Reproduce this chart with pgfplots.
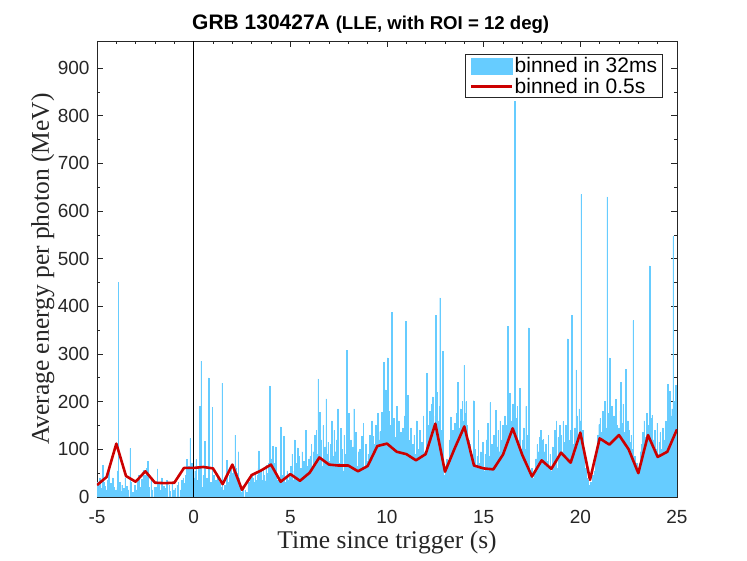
\documentclass[border=0pt]{standalone}
\usepackage{pgfplots}
\pgfplotsset{compat=1.18}
\usepackage{pgfplotstable}
\usepackage{fontspec}
\setmainfont{Liberation Sans}
\newfontfamily\seriffont{Liberation Serif}
\definecolor{barblue}{rgb}{0.4,0.8,1}
\definecolor{linered}{rgb}{0.8,0,0}
\definecolor{axgray}{rgb}{0.15,0.15,0.15}

% average energy per photon, 32 ms bins starting at t = -5 s (one line per second)
\pgfplotstableread[row sep=\\]{
v\\
0\\30\\0\\25\\40\\0\\18\\0\\45\\67\\0\\30\\0\\22\\0\\15\\0\\35\\60\\0\\12\\0\\28\\0\\0\\40\\0\\20\\0\\0\\15\\
0\\20\\55\\450\\0\\30\\0\\12\\0\\25\\0\\0\\18\\0\\40\\0\\0\\22\\0\\15\\0\\0\\102\\0\\30\\0\\10\\0\\0\\25\\0\\
0\\15\\0\\30\\0\\45\\0\\20\\0\\0\\38\\0\\56\\0\\25\\46\\0\\30\\60\\75\\65\\0\\20\\0\\0\\35\\0\\15\\0\\0\\20\\
0\\20\\0\\0\\59\\0\\30\\0\\15\\0\\0\\40\\0\\0\\22\\0\\0\\18\\0\\35\\0\\0\\0\\25\\0\\12\\0\\0\\30\\0\\0\\15\\
0\\18\\0\\0\\25\\0\\30\\0\\0\\15\\0\\35\\0\\22\\40\\0\\28\\0\\45\\55\\79\\30\\20\\65\\50\\123\\60\\40\\70\\35\\45\\
40\\20\\55\\30\\79\\0\\35\\25\\60\\15\\190\\30\\285\\0\\20\\45\\10\\30\\117\\0\\25\\40\\15\\35\\250\\0\\20\\30\\0\\12\\188\\
30\\45\\20\\0\\35\\15\\0\\25\\40\\0\\18\\30\\0\\12\\20\\239\\0\\15\\0\\25\\0\\10\\77\\0\\20\\30\\0\\45\\25\\60\\35\\
50\\40\\65\\30\\45\\130\\60\\35\\50\\20\\95\\40\\25\\0\\10\\0\\0\\21\\0\\0\\0\\15\\0\\0\\10\\0\\25\\30\\0\\40\\35\\30\\
45\\0\\40\\30\\0\\50\\25\\35\\0\\45\\60\\97\\30\\20\\55\\40\\0\\35\\60\\25\\45\\0\\34\\66\\50\\30\\45\\70\\55\\233\\60\\
60\\80\\45\\107\\55\\70\\40\\105\\50\\30\\20\\35\\0\\25\\40\\147\\30\\0\\20\\45\\128\\60\\15\\30\\0\\40\\55\\35\\20\\50\\45\\
20\\65\\10\\90\\35\\0\\55\\120\\25\\45\\70\\15\\103\\40\\85\\5\\30\\60\\20\\95\\45\\10\\75\\30\\50\\140\\20\\65\\35\\0\\80\\
30\\85\\15\\110\\60\\20\\95\\45\\130\\25\\70\\140\\40\\90\\248\\55\\100\\178\\30\\120\\65\\15\\150\\80\\35\\105\\60\\206\\20\\90\\115\\45\\
75\\20\\110\\45\\160\\30\\85\\10\\140\\60\\95\\25\\120\\50\\185\\35\\70\\15\\144\\120\\40\\100\\55\\20\\130\\65\\30\\90\\307\\45\\80\\
175\\40\\90\\15\\120\\60\\30\\105\\50\\185\\25\\80\\135\\20\\65\\10\\95\\45\\100\\30\\70\\128\\15\\85\\155\\40\\60\\20\\110\\75\\35\\
50\\90\\25\\130\\70\\114\\35\\160\\85\\128\\40\\110\\65\\150\\30\\95\\175\\55\\120\\80\\137\\45\\100\\178\\60\\140\\283\\90\\165\\225\\105\\
140\\292\\60\\180\\95\\30\\150\\75\\388\\110\\45\\165\\80\\20\\125\\55\\190\\35\\100\\160\\70\\15\\135\\50\\105\\25\\145\\60\\90\\170\\40\\369\\
85\\40\\213\\120\\30\\95\\60\\145\\20\\75\\110\\45\\130\\15\\90\\55\\160\\25\\70\\100\\35\\140\\50\\10\\115\\65\\85\\170\\40\\95\\60\\
70\\260\\115\\40\\150\\85\\180\\55\\125\\195\\90\\210\\60\\140\\100\\170\\381\\130\\220\\75\\160\\110\\190\\418\\95\\60\\140\\305\\30\\45\\20\\
15\\50\\25\\80\\10\\65\\35\\120\\45\\168\\90\\30\\140\\70\\115\\40\\155\\85\\60\\175\\120\\241\\50\\145\\95\\185\\130\\70\\200\\110\\160\\
276\\130\\175\\200\\95\\150\\60\\120\\80\\45\\110\\30\\90\\55\\20\\202\\70\\35\\100\\15\\60\\85\\25\\140\\45\\70\\10\\95\\50\\30\\115\\40\\
55\\20\\90\\35\\120\\10\\155\\65\\30\\85\\198\\40\\15\\110\\50\\25\\130\\60\\20\\182\\75\\105\\35\\140\\60\\95\\160\\45\\120\\85\\150\\
90\\140\\45\\170\\110\\60\\150\\358\\85\\125\\180\\217\\70\\160\\115\\195\\90\\140\\196\\831\\165\\75\\130\\190\\55\\120\\85\\228\\100\\40\\75\\
120\\60\\145\\35\\100\\75\\190\\50\\130\\25\\355\\70\\20\\45\\10\\60\\30\\5\\40\\15\\55\\25\\80\\35\\110\\50\\95\\20\\125\\65\\140\\
85\\40\\120\\121\\60\\95\\30\\110\\20\\75\\45\\130\\15\\65\\90\\25\\55\\35\\105\\10\\70\\140\\40\\95\\160\\60\\30\\125\\75\\150\\45\\115\\
130\\60\\95\\158\\40\\115\\75\\150\\30\\90\\332\\55\\120\\20\\85\\140\\45\\381\\30\\70\\110\\25\\145\\60\\267\\95\\170\\50\\130\\185\\100\\
160\\635\\120\\75\\140\\45\\95\\30\\60\\20\\40\\10\\35\\0\\25\\15\\5\\30\\0\\20\\45\\10\\55\\25\\80\\40\\105\\70\\130\\90\\152\\
110\\165\\70\\135\\95\\180\\55\\120\\200\\85\\145\\60\\630\\105\\175\\80\\292\\130\\65\\190\\100\\150\\45\\170\\115\\80\\205\\95\\150\\60\\125\\
145\\90\\180\\240\\70\\155\\110\\195\\60\\135\\85\\268\\120\\50\\160\\95\\140\\40\\115\\75\\130\\35\\100\\370\\60\\20\\85\\45\\15\\70\\30\\55\\
25\\70\\40\\95\\15\\110\\55\\135\\80\\160\\45\\125\\95\\175\\60\\150\\110\\70\\485\\130\\85\\165\\172\\50\\120\\75\\140\\35\\100\\60\\155\\
90\\40\\115\\60\\135\\25\\100\\70\\145\\50\\120\\30\\95\\160\\65\\110\\236\\80\\140\\222\\55\\170\\120\\185\\95\\547\\150\\200\\130\\235\\160\\
}\barsdata

\begin{document}
\begin{tikzpicture}
\useasboundingbox (-97pt,-64pt) rectangle (650pt,497pt);
\begin{axis}[
  scale only axis, width=580pt, height=456pt,
  xmin=-5, xmax=25, ymin=0, ymax=957,
  xtick={-5,0,5,10,15,20,25},
  xticklabels={-5,0,5,10,15,20,25},
  ytick={0,100,200,300,400,500,600,700,800,900},
  yticklabels={0,100,200,300,400,500,600,700,800,900},
  minor x tick num=4, minor y tick num=1,
  tick align=inside, major tick length=6pt, minor tick length=3.5pt,
  axis line style={axgray, line width=0.8pt},
  every tick/.style={axgray, line width=0.8pt},
  tick label style={font=\fontsize{19}{19}\selectfont, text=axgray},
  xticklabel style={yshift=-10pt},
  yticklabel style={xshift=-4pt},
  xlabel={Time since trigger (s)},
  ylabel={Average energy per photon (MeV)},
  label style={font=\seriffont\fontsize{25.5}{25.5}\selectfont, text=axgray},
  xlabel style={at={(axis description cs:0.5,0)}, anchor=base, yshift=-52pt},
  ylabel style={at={(axis description cs:0,0.5)}, anchor=base, yshift=48pt},
  legend style={at={(axis description cs:0.9759,0.9715)}, anchor=north east,
    draw=axgray, line width=0.8pt, font=\fontsize{21}{21}\selectfont,
    inner xsep=4pt, inner ysep=1.5pt, row sep=1pt,
    nodes={inner sep=1.5pt}},
  legend cell align=left,
]
\addplot[ybar, bar width=0.032, bar shift=0pt, fill=barblue, draw=barblue, line width=0.45pt,
  legend image code/.code={\fill[barblue] (0pt,-8pt) rectangle (41pt,8pt);}]
  table[x expr=\coordindex*0.032-4.984, y=v] {\barsdata};
\addlegendentry{binned in 32ms}
\addplot[black, line width=0.9pt, forget plot] coordinates {(0,0) (0,957)};
\addplot[linered, line width=2.6pt, line join=round,
  legend image code/.code={\draw[linered, line width=2.6pt] (0pt,0pt) -- (41pt,0pt);}]
  coordinates {
  (-5,25) (-4.5,42) (-4,112) (-3.5,44) (-3,32) (-2.5,54) (-2,30) (-1.5,29)
  (-1,30) (-0.5,61) (0,61) (0.5,63) (1,60) (1.5,27) (2,68) (2.5,15)
  (3,46) (3.5,56) (4,68) (4.5,32) (5,48) (5.5,34) (6,51) (6.5,83)
  (7,68) (7.5,66) (8,66) (8.5,54) (9,65) (9.5,107) (10,112) (10.5,95)
  (11,90) (11.5,77) (12,90) (12.5,154) (13,53) (13.5,102) (14,148) (14.5,66)
  (15,60) (15.5,58) (16,89) (16.5,144) (17,88) (17.5,43) (18,77) (18.5,59)
  (19,93) (19.5,72) (20,135) (20.5,36) (21,123) (21.5,110) (22,130) (22.5,100)
  (23,50) (23.5,130) (24,84) (24.5,95) (25,142)
  };
\addlegendentry{binned in 0.5s}
\end{axis}
\node[anchor=base west, inner sep=0pt] at (95pt,467pt)
  {\bfseries\fontsize{21}{21}\selectfont GRB 130427A \fontsize{18.6}{18.6}\selectfont(LLE, with ROI = 12 deg)};
\end{tikzpicture}
\end{document}
